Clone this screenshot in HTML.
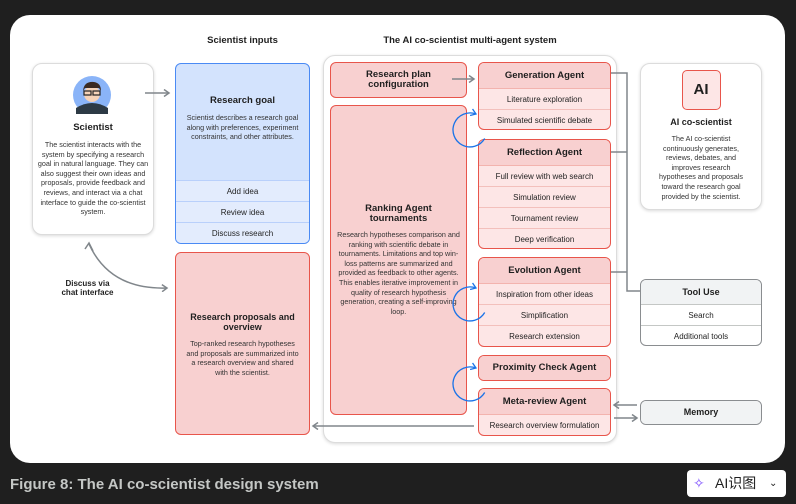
<!DOCTYPE html>
<html><head><meta charset="utf-8"><style>
*{margin:0;padding:0;box-sizing:border-box}
body{width:796px;height:504px;background:#1f1f1f;font-family:"Liberation Sans",sans-serif;position:relative;overflow:hidden;color:#1f1f1f}
.a{position:absolute}
.panel{left:10px;top:15px;width:775px;height:448px;background:#fff;border-radius:20px}
.t{font-weight:bold;text-align:center}
.card{background:#fff;border:1px solid #dcdcdc;border-radius:10px;box-shadow:0 1px 3px rgba(0,0,0,.15)}
.red{background:#f8d0d0;border:1.3px solid #e8554b;border-radius:6px}
.ag{background:#fde6e6;border:1.3px solid #e8554b;border-radius:6px;overflow:hidden}
.ag .h{background:#f8d0d0;height:26px;line-height:26px;font-weight:bold;font-size:9.5px;text-align:center;border-bottom:1px solid #f3b3ae}
.ag .r{height:21px;line-height:21px;font-size:8px;text-align:center;border-bottom:1px solid #f3c0bc}
.ag .r:last-child{border-bottom:none}
.blue{background:#d3e3fd;border:1.3px solid #4a8af4;border-radius:6px;overflow:hidden}
.blue .r{height:21px;line-height:21px;font-size:8px;text-align:center;background:#e3ecfd;border-top:1px solid #b9d0fb}
.gr{background:#fff;border:1.3px solid #8a8d90;border-radius:6px;overflow:hidden}
.gr .h{background:#f1f3f4;height:25px;line-height:25px;font-weight:bold;font-size:9px;text-align:center;border-bottom:1px solid #c4c7c5}
.gr .r{height:21px;line-height:21px;font-size:8px;text-align:center;border-bottom:1px solid #c4c7c5}
.gr .r:last-child{border-bottom:none}
.p{font-size:7.2px;line-height:9.6px;text-align:center;color:#333}
</style></head><body>
<div class="a panel"></div>
<div class="a t" style="left:175px;top:35px;width:135px;font-size:9.5px">Scientist inputs</div>
<div class="a t" style="left:323px;top:35px;width:294px;font-size:9.5px">The AI co-scientist multi-agent system</div>

<div class="a card" style="left:32px;top:63px;width:122px;height:172px">
  <div class="t" style="margin-top:58px;font-size:9.5px">Scientist</div>
  <div class="p" style="margin:7px 4px 0">The scientist interacts with the system by specifying a research goal in natural language. They can also suggest their own ideas and proposals, provide feedback and reviews, and interact via a chat interface to guide the co-scientist system.</div>
</div>
<svg class="a" style="left:72px;top:74px" width="40" height="42"><circle cx="20" cy="21" r="19" fill="#8ab4f8"/><path d="M4 34 Q20 24 36 34 L36 40 L4 40Z" fill="#2d3a45"/><circle cx="20" cy="20" r="8" fill="#f6d3b8"/><path d="M11 17 Q12 7 22 8 Q29 9 29 17 L27 14 L13 14Z" fill="#3b2a22"/><rect x="12" y="17" width="7" height="4" fill="none" stroke="#222" stroke-width="1.2"/><rect x="21" y="17" width="7" height="4" fill="none" stroke="#222" stroke-width="1.2"/></svg>

<div class="a blue" style="left:175px;top:63px;width:135px;height:181px">
  <div class="t" style="margin-top:31px;font-size:9.5px">Research goal</div>
  <div class="p" style="margin:7px 8px 0">Scientist describes a research goal along with preferences, experiment constraints, and other attributes.</div>
  <div style="position:absolute;left:0;right:0;bottom:0"><div class="r">Add idea</div><div class="r">Review idea</div><div class="r">Discuss research</div></div>
</div>
<div class="a red" style="left:175px;top:252px;width:135px;height:183px">
  <div class="t" style="margin-top:59px;font-size:9px;line-height:10px">Research proposals and<br>overview</div>
  <div class="p" style="margin:7px 8px 0">Top-ranked research hypotheses and proposals are summarized into a research overview and shared with the scientist.</div>
</div>
<div class="a t" style="left:50px;top:279px;width:75px;font-size:8px;line-height:9px">Discuss via<br>chat interface</div>

<div class="a card" style="left:323px;top:55px;width:294px;height:388px;border-radius:12px"></div>
<div class="a red" style="left:330px;top:62px;width:137px;height:36px"><div class="t" style="font-size:9.5px;line-height:10px;margin-top:7px">Research plan<br>configuration</div></div>
<div class="a red" style="left:330px;top:105px;width:137px;height:310px">
  <div class="t" style="font-size:9.5px;line-height:10px;margin-top:98px">Ranking Agent<br>tournaments</div>
  <div class="p" style="margin:6px 5px 0">Research hypotheses comparison and ranking with scientific debate in tournaments. Limitations and top win-loss patterns are summarized and provided as feedback to other agents. This enables iterative improvement in quality of research hypothesis generation, creating a self-improving loop.</div>
</div>

<div class="a ag" style="left:478px;top:62px;width:133px;height:68px"><div class="h">Generation Agent</div><div class="r">Literature exploration</div><div class="r">Simulated scientific debate</div></div>
<div class="a ag" style="left:478px;top:139px;width:133px;height:110px"><div class="h">Reflection Agent</div><div class="r">Full review with web search</div><div class="r">Simulation review</div><div class="r">Tournament review</div><div class="r">Deep verification</div></div>
<div class="a ag" style="left:478px;top:257px;width:133px;height:90px"><div class="h">Evolution Agent</div><div class="r">Inspiration from other ideas</div><div class="r">Simplification</div><div class="r">Research extension</div></div>
<div class="a ag" style="left:478px;top:355px;width:133px;height:26px"><div class="h" style="border:none;height:24px;line-height:24px">Proximity Check Agent</div></div>
<div class="a ag" style="left:478px;top:388px;width:133px;height:48px"><div class="h">Meta-review Agent</div><div class="r">Research overview formulation</div></div>

<div class="a card" style="left:640px;top:63px;width:122px;height:147px">
  <div style="margin:6px auto 0;width:39px;height:40px;background:#fde6e6;border:1.3px solid #e8554b;border-radius:5px;text-align:center;line-height:38px;font-weight:bold;font-size:15px">AI</div>
  <div class="t" style="margin-top:7px;font-size:9px">AI co-scientist</div>
  <div class="p" style="margin:7px 12px 0">The AI co-scientist continuously generates, reviews, debates, and improves research hypotheses and proposals toward the research goal provided by the scientist.</div>
</div>
<div class="a gr" style="left:640px;top:279px;width:122px;height:67px"><div class="h">Tool Use</div><div class="r">Search</div><div class="r">Additional tools</div></div>
<div class="a gr" style="left:640px;top:400px;width:122px;height:25px"><div class="h" style="border:none;height:23px;line-height:23px">Memory</div></div>

<svg class="a" style="left:0;top:0" width="796" height="504">
<defs><marker id="g" markerWidth="8" markerHeight="8" refX="6" refY="4" orient="auto" markerUnits="userSpaceOnUse"><path d="M1 0.5 L6 4 L1 7.5" fill="none" stroke="#80868b" stroke-width="1.5"/></marker>
<marker id="b" markerWidth="8" markerHeight="8" refX="6" refY="4" orient="auto" markerUnits="userSpaceOnUse"><path d="M1 0.5 L6 4 L1 7.5" fill="none" stroke="#1a73e8" stroke-width="1.3"/></marker></defs>
<g stroke="#80868b" stroke-width="1.5" fill="none">
<line x1="145" y1="93" x2="169" y2="93" marker-end="url(#g)"/>
<line x1="452" y1="79" x2="474" y2="79" marker-end="url(#g)"/>
<path d="M611 73 H627 V291 H640 M611 152 H627 M611 272 H627"/>
<line x1="637" y1="405" x2="614" y2="405" marker-end="url(#g)"/>
<line x1="614" y1="418" x2="637" y2="418" marker-end="url(#g)"/>
<line x1="474" y1="426" x2="313" y2="426" marker-end="url(#g)"/>
<path d="M89 244 Q110 290 167 288" marker-end="url(#g)"/>
<path d="M93 251 L89 243 L85 249"/>
</g>
<g stroke="#1a73e8" stroke-width="1.3" fill="none">
<path d="M484.7 138.5 A17 17 0 1 1 476 114" marker-end="url(#b)"/>
<path d="M484.7 312.5 A17 17 0 1 1 476 288" marker-end="url(#b)"/>
<path d="M484.7 392.5 A17 17 0 1 1 476 368" marker-end="url(#b)"/>
</g>
</svg>

<div class="a" style="left:10px;top:476px;font-size:15px;color:#c4c7c5;font-weight:bold">Figure 8: The AI co-scientist design system</div>
<div class="a" style="left:687px;top:470px;width:99px;height:27px;background:#fff;border-radius:4px;font-family:'Liberation Sans','Noto Sans CJK SC',sans-serif;font-size:14px;line-height:27px;color:#1f1f1f">
<span style="position:absolute;left:6px;top:0;color:#7c4dff;font-size:14px">✧</span>
<span style="position:absolute;left:28px;top:0">AI识图</span>
<span style="position:absolute;left:82px;top:0;font-size:10px">⌄</span>
</div>
</body></html>
